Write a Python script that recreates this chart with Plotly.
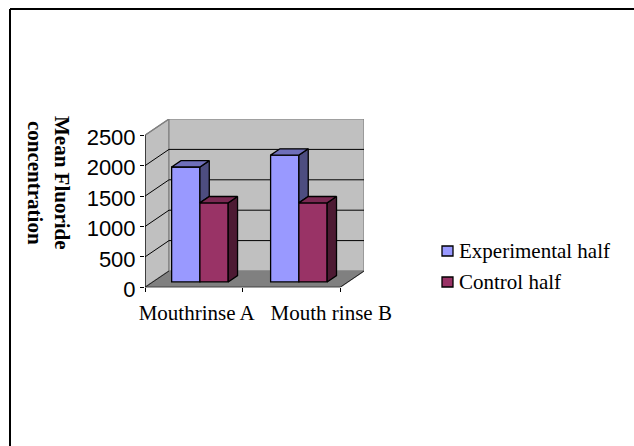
import plotly.graph_objects as go

categories = ["Mouthrinse A", "Mouth rinse B"]
series_names = ["Experimental half", "Control half"]
experimental = [1890, 2085]
control = [1300, 1300]
y_ticks = [0, 500, 1000, 1500, 2000, 2500]

W, H = 634, 446
LEFT, RIGHT_FRONT, RIGHT_BACK = 145.0, 340.0, 364.0
BOTTOM, TOP_FRONT, TOP_BACK = 287.3, 135.3, 119.0
X_PER_PX = 2 / (RIGHT_FRONT - LEFT)
Y_PER_PX = 2500 / (BOTTOM - TOP_FRONT)
DX = (RIGHT_BACK - RIGHT_FRONT) * X_PER_PX      # full chart depth, in x data units
DY = (TOP_FRONT - TOP_BACK) * Y_PER_PX
D0, D1 = 0.33, 0.72                              # bar depth span
BAR_W = 0.29
BAR_START = [0.192, 1.207]
FRONT_COLORS = ["#9999FF", "#993366"]


def P(x, v, d):
    return x + d * DX, v + d * DY


def poly(points, fill, line):
    xs = [P(*p)[0] for p in points] + [P(*points[0])[0]]
    ys = [P(*p)[1] for p in points] + [P(*points[0])[1]]
    path = "M " + " L ".join(f"{a},{b}" for a, b in zip(xs, ys)) + " Z"
    return dict(type="path", path=path, xref="x", yref="y", fillcolor=fill,
                line=dict(color=line, width=1.2), layer="below")


def seg(a, b, color="black", width=1):
    (x0, y0), (x1, y1) = P(*a), P(*b)
    return dict(type="line", xref="x", yref="y", x0=x0, y0=y0, x1=x1, y1=y1,
                line=dict(color=color, width=width), layer="below")


shapes = [
    poly([(0, 0, 0), (0, 2500, 0), (0, 2500, 1), (0, 0, 1)], "#C0C0C0", "#808080"),
    poly([(0, 0, 1), (0, 2500, 1), (2, 2500, 1), (2, 0, 1)], "#C0C0C0", "#808080"),
    poly([(0, 0, 0), (2, 0, 0), (2, 0, 1), (0, 0, 1)], "#808080", "#808080"),
]
for v in y_ticks[1:-1]:
    shapes.append(seg((0, v, 0), (0, v, 1)))
    shapes.append(seg((0, v, 1), (2, v, 1)))
shapes += [
    seg((0, 2500, 0), (0, 2500, 1), "#808080", 1.2),
    seg((0, 0, 0), (0, 0, 1), "#222222", 1),
    seg((2, 0, 0), (2, 0, 1), "#222222", 1),
    seg((0, 0, 0), (0, 2500, 0), "black", 1.2),
    seg((0, 0, 0), (2, 0, 0), "black", 1.2),
]
# slide frame: top and left edges
shapes += [
    dict(type="line", xref="paper", yref="paper", x0=10 / W, x1=1, y0=1 - 9 / H, y1=1 - 9 / H,
         line=dict(color="black", width=2)),
    dict(type="line", xref="paper", yref="paper", x0=10 / W, x1=10 / W, y0=0, y1=1 - 9 / H,
         line=dict(color="black", width=2)),
]

annotations = [dict(text="<b>Mean Fluoride<br>concentration</b>", xref="paper", yref="paper",
                    x=48 / W, y=1 - 183 / H, xanchor="center", yanchor="middle", showarrow=False,
                    textangle=90, font=dict(family="Liberation Serif", size=21, color="black"))]

# legend: swatch and label rows
LEGEND_ROWS = [251, 282]
for name, color, row in zip(series_names, FRONT_COLORS, LEGEND_ROWS):
    shapes.append(dict(type="rect", xref="paper", yref="paper", x0=442 / W, x1=453 / W,
                       y0=1 - (row + 5) / H, y1=1 - (row - 5) / H, fillcolor=color,
                       line=dict(color="black", width=1.3)))
    annotations.append(dict(text=name, xref="paper", yref="paper", x=457 / W, y=1 - row / H,
                            xanchor="left", yanchor="middle", showarrow=False,
                            font=dict(family="Liberation Serif", size=21, color="black")))

fig = go.Figure()
base = D0 * DY
bar_line = dict(color="black", width=1.3)
fig.add_bar(x=[s + D0 * DX for s in BAR_START], y=experimental, base=base, width=BAR_W, offset=0,
            name=series_names[0], marker=dict(color=FRONT_COLORS[0], line=bar_line))
fig.add_bar(x=[s + BAR_W + D0 * DX for s in BAR_START], y=control, base=base, width=BAR_W, offset=0,
            name=series_names[1], marker=dict(color=FRONT_COLORS[1], line=bar_line))


def face(points, color):
    pts = points + [points[0]]
    fig.add_scatter(x=[P(*p)[0] for p in pts], y=[P(*p)[1] for p in pts], mode="lines",
                    fill="toself", fillcolor=color, line=dict(color="black", width=1.3),
                    showlegend=False, hoverinfo="skip")


for i in range(len(categories)):
    s = BAR_START[i]
    e, c = experimental[i], control[i]
    m = s + BAR_W
    r = m + BAR_W
    face([(m, c, D0), (m, e, D0), (m, e, D1), (m, c, D1)], "#4D4D80")
    face([(s, e, D0), (m, e, D0), (m, e, D1), (s, e, D1)], "#6F6FBA")
    face([(r, 0, D0), (r, c, D0), (r, c, D1), (r, 0, D1)], "#4D1A33")
    face([(m, c, D0), (r, c, D0), (r, c, D1), (m, c, D1)], "#7A2952")

fig.update_layout(
    width=W, height=H, autosize=False, margin=dict(l=0, r=0, t=0, b=0, pad=0, autoexpand=False),
    paper_bgcolor="white", plot_bgcolor="rgba(0,0,0,0)",
    shapes=shapes, annotations=annotations, showlegend=False, barmode="overlay",
    xaxis=dict(domain=[LEFT / W, RIGHT_BACK / W], range=[0, (RIGHT_BACK - LEFT) * X_PER_PX],
               automargin=False, showgrid=False, zeroline=False, showline=False,
               tickvals=[0.53, 1.91], ticktext=categories, ticks="",
               tickfont=dict(family="Liberation Serif", size=21, color="black"),
               ticklabelstandoff=11,
               minor=dict(tickvals=[0, 1, 2], ticks="outside", ticklen=4, tickcolor="black", tickwidth=1)),
    yaxis=dict(domain=[1 - BOTTOM / H, 1 - TOP_BACK / H], range=[0, (BOTTOM - TOP_BACK) * Y_PER_PX],
               automargin=False, showgrid=False, zeroline=False, showline=False,
               tickvals=y_ticks, ticks="outside", ticklen=4, tickcolor="black", tickwidth=1,
               tickfont=dict(family="Liberation Sans", size=22, color="black"),
               ticklabelshift=2),
)

fig.write_html("out.html", config={"displayModeBar": False},
               post_script="document.body.style.margin='0';")
